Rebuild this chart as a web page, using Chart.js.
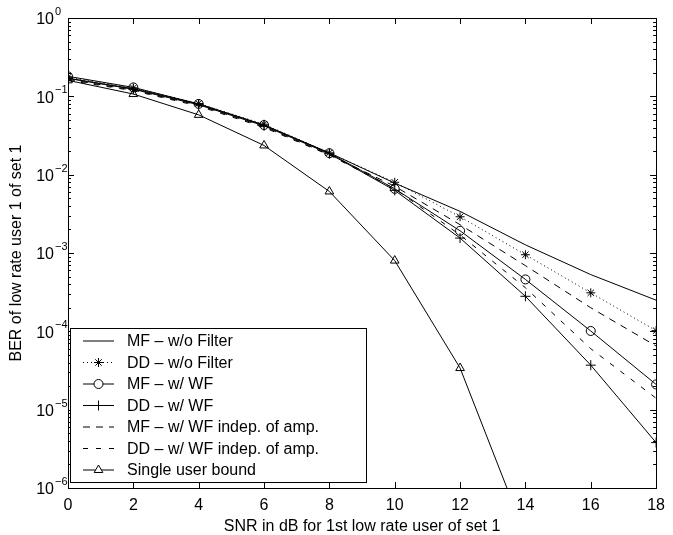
<!DOCTYPE html>
<html>
<head>
<meta charset="utf-8">
<script src="https://cdn.jsdelivr.net/npm/chart.js@4.4.1/dist/chart.umd.min.js"></script>
<style>
html,body{margin:0;padding:0;background:#fff;}
#wrap{width:673px;height:535px;position:relative;}
</style>
</head>
<body>
<div id="wrap"><canvas id="ber-chart"></canvas></div>
<script>
// SNR (dB) on x, BER on y (log)
const snr = [0, 2, 4, 6, 8, 10, 12, 14, 16, 18];
const mfNoFilter  = [0.170, 0.125, 0.080, 0.043, 0.0190, 0.0078, 0.0034, 0.00127, 0.00053, 0.00025];
const ddNoFilter  = [0.175, 0.128, 0.081, 0.044, 0.0190, 0.0080, 0.0029, 0.00095, 0.00031, 0.000102];
const mfWF        = [0.180, 0.130, 0.080, 0.043, 0.0188, 0.0066, 0.00192, 0.00046, 0.000101, 0.000021];
const ddWF        = [0.170, 0.123, 0.078, 0.042, 0.0185, 0.0063, 0.00155, 0.00028, 0.000037, 0.0000038];
const mfWFIndep   = [0.165, 0.120, 0.077, 0.041, 0.0180, 0.0071, 0.0023, 0.00069, 0.00020, 0.000065];
const ddWFIndep   = [0.160, 0.118, 0.075, 0.040, 0.0178, 0.0066, 0.0017, 0.00036, 0.000060, 0.000014];
const singleUser  = [0.160, 0.107, 0.058, 0.0236, 0.0061, 0.00080, 0.000034, 0.00000025];

const xTicks = [0, 2, 4, 6, 8, 10, 12, 14, 16, 18];
const yTicks = [1, 1e-1, 1e-2, 1e-3, 1e-4, 1e-5, 1e-6];
const legendLabels = ['MF \u2013 w/o Filter', 'DD \u2013 w/o Filter', 'MF \u2013 w/ WF', 'DD \u2013 w/ WF',
  'MF \u2013 w/ WF indep. of amp.', 'DD \u2013 w/ WF indep. of amp.', 'Single user bound'];

const FONT = '"Liberation Sans", Arial, Helvetica, sans-serif';

const pts = (ys) => ys.map((y, i) => ({x: snr[i], y: y}));

const line = (label, ys, style, dash, radius) => ({
  label: label, data: pts(ys),
  borderColor: '#000', borderWidth: 1, borderDash: dash,
  pointStyle: style || 'circle', pointRadius: style ? radius : 0,
  pointBorderColor: '#000', pointBackgroundColor: 'rgba(0,0,0,0)', pointBorderWidth: 1,
  tension: 0, fill: false
});

const datasets = [
  line(legendLabels[0], mfNoFilter, null, [], 0),
  line(legendLabels[1], ddNoFilter, 'star', [1, 3], 4.5),
  line(legendLabels[2], mfWF, 'circle', [], 4.5),
  line(legendLabels[3], ddWF, 'cross', [], 5),
  line(legendLabels[4], mfWFIndep, null, [7, 6], 0),
  line(legendLabels[5], ddWFIndep, null, [5, 8], 0),
  line(legendLabels[6], singleUser, 'triangle', [], 5)
];

// matlab style box + inward ticks, y labels with exponent, legend
const framePlugin = {
  id: 'frame',
  afterDatasetsDraw(chart) {
    const {ctx, chartArea: a, scales} = chart;
    ctx.save();
    ctx.strokeStyle = '#000';
    ctx.lineWidth = 1;
    ctx.setLineDash([]);
    ctx.beginPath();
    xTicks.forEach(v => {
      const px = Math.round(scales.x.getPixelForValue(v)) + 0.5;
      ctx.moveTo(px, a.bottom); ctx.lineTo(px, a.bottom - 6);
      ctx.moveTo(px, a.top); ctx.lineTo(px, a.top + 6);
    });
    for (let e = -6; e <= 0; e++) {
      for (let m = 1; m <= 9; m++) {
        const v = m * Math.pow(10, e);
        if (v > 1) break;
        const py = Math.round(scales.y.getPixelForValue(v)) + 0.5;
        const len = m === 1 ? 6 : 3;
        ctx.moveTo(a.left, py); ctx.lineTo(a.left + len, py);
        ctx.moveTo(a.right, py); ctx.lineTo(a.right - len, py);
      }
    }
    ctx.stroke();
    ctx.strokeRect(Math.round(a.left) + 0.5, Math.round(a.top) + 0.5,
      Math.round(a.right - a.left), Math.round(a.bottom - a.top));

    // y tick labels: 10 with raised exponent
    ctx.fillStyle = '#000';
    yTicks.forEach(v => {
      const py = scales.y.getPixelForValue(v);
      ctx.font = '16px ' + FONT;
      ctx.textAlign = 'right';
      ctx.textBaseline = 'middle';
      ctx.fillText('10', a.left - 14, py + 2);
      ctx.font = '11px ' + FONT;
      ctx.textAlign = 'left';
      ctx.fillText(String(Math.round(Math.log10(v))).replace('-', '\u2212'), a.left - 13, py - 6);
    });

    // legend box
    const bx = a.left + 2.5, by = 328.5, bw = 296, bh = 154;
    ctx.fillStyle = '#fff';
    ctx.fillRect(bx, by, bw, bh);
    ctx.strokeRect(bx, by, bw, bh);
    ctx.font = '16px ' + FONT;
    ctx.textAlign = 'left';
    ctx.textBaseline = 'middle';
    chart.data.datasets.forEach((ds, i) => {
      const y = 341 + i * 21.5;
      ctx.beginPath();
      ctx.setLineDash(ds.borderDash || []);
      ctx.moveTo(83, y); ctx.lineTo(114, y);
      ctx.stroke();
      ctx.setLineDash([]);
      if (ds.pointRadius > 0) {
        ctx.fillStyle = '#fff';
        Chart.helpers.drawPoint(ctx, {pointStyle: ds.pointStyle, radius: ds.pointRadius, borderWidth: 1, rotation: 0}, 98.5, y);
      }
      ctx.fillStyle = '#000';
      ctx.fillText(ds.label, 127, y + 1);
    });
    ctx.restore();
  }
};

const config = {
  type: 'line',
  data: {datasets: datasets},
  options: {
    responsive: true, maintainAspectRatio: false, animation: false,
    layout: {padding: {top: 18, right: 9, left: 0, bottom: 0}},
    plugins: {legend: {display: false}, tooltip: {enabled: false}},
    scales: {
      x: {
        type: 'linear', min: 0, max: 18,
        afterBuildTicks: (s) => { s.ticks = xTicks.map(v => ({value: v})); },
        afterFit: (s) => { s.height = 47; },
        grid: {display: false, drawTicks: false}, border: {display: false},
        ticks: {color: '#000', font: {family: FONT, size: 16}, padding: 8, maxRotation: 0},
        title: {display: true, text: 'SNR in dB for 1st low rate user of set 1', color: '#000',
          font: {family: FONT, size: 16}, padding: {top: 0, bottom: -1}}
      },
      y: {
        type: 'logarithmic', min: 1e-6, max: 1,
        afterBuildTicks: (s) => { s.ticks = yTicks.map(v => ({value: v})); },
        afterFit: (s) => { s.width = 68; },
        grid: {display: false, drawTicks: false}, border: {display: false},
        ticks: {display: false},
        title: {display: true, text: 'BER of low rate user 1 of set 1', color: '#000',
          font: {family: FONT, size: 16}, padding: {top: 7, bottom: 0}}
      }
    }
  },
  plugins: [framePlugin]
};

const berChart = new Chart(document.getElementById('ber-chart'), config);
</script>
</body>
</html>
